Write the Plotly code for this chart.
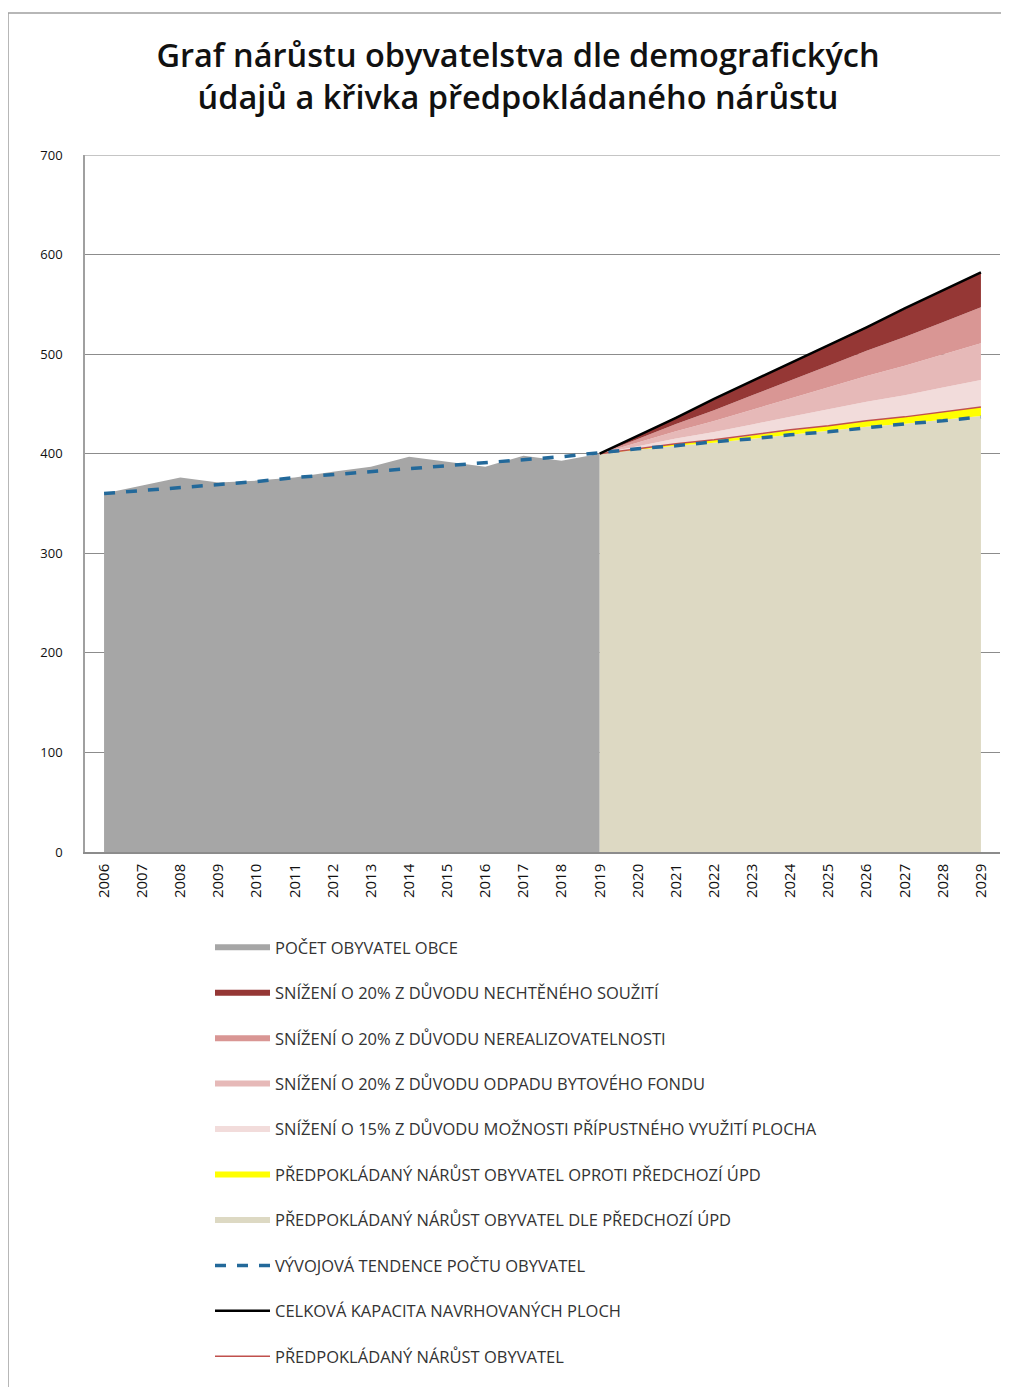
import plotly.graph_objects as go

# ---------------- data ----------------
years_hist = [2006, 2007, 2008, 2009, 2010, 2011, 2012, 2013, 2014, 2015, 2016, 2017, 2018, 2019]
pop_hist = [360, 368, 376, 371, 373, 376, 382, 387, 397, 392, 387, 398, 393, 400]

years_all = list(range(2006, 2030))
trend = [360, 363, 366, 369, 372, 376, 379, 382, 385, 388, 391, 394, 397, 401,
         405, 408, 412, 415, 419, 422, 426, 430, 433, 437]

years_fut = [2019, 2020, 2021, 2022, 2023, 2024, 2025, 2026, 2027, 2028, 2029]
base_prev_upd = [400, 404, 408, 411, 415, 419, 423, 427, 430, 434, 438]      # dle předchozí ÚPD
extra_vs_upd = [0, 0.9, 1.8, 2.7, 3.6, 4.5, 5.4, 6.3, 7.2, 8.1, 9]           # oproti předchozí ÚPD
red15 = [0, 2.7, 5.4, 8.1, 10.8, 13.5, 16.2, 18.9, 21.6, 24.3, 27]           # 15 % přípustné využití
red20_fond = [0, 3.7, 7.4, 11.1, 14.8, 18.5, 22.2, 25.9, 29.6, 33.3, 37]     # 20 % odpad bytového fondu
red20_nereal = [0, 3.6, 7.2, 10.8, 14.4, 18, 21.6, 25.2, 28.8, 32.4, 36]     # 20 % nerealizovatelnost
red20_souziti = [0, 3.5, 7, 10.5, 14, 17.5, 21, 24.5, 28, 31.5, 35]          # 20 % nechtěné soužití
predicted = [400, 405, 410, 414, 419, 424, 428, 433, 437, 442, 447]
total_capacity = [400, 418, 436, 455, 473, 491, 509, 527, 546, 564, 582]

y_ticks = [0, 100, 200, 300, 400, 500, 600, 700]

names = {
    "hist": "POČET OBYVATEL OBCE",
    "souziti": "SNÍŽENÍ O 20% Z DŮVODU NECHTĚNÉHO SOUŽITÍ",
    "nereal": "SNÍŽENÍ O 20% Z DŮVODU NEREALIZOVATELNOSTI",
    "fond": "SNÍŽENÍ O 20% Z DŮVODU ODPADU BYTOVÉHO FONDU",
    "r15": "SNÍŽENÍ O 15% Z DŮVODU MOŽNOSTI PŘÍPUSTNÉHO VYUŽITÍ PLOCHA",
    "extra": "PŘEDPOKLÁDANÝ NÁRŮST OBYVATEL OPROTI PŘEDCHOZÍ ÚPD",
    "base": "PŘEDPOKLÁDANÝ NÁRŮST OBYVATEL DLE PŘEDCHOZÍ ÚPD",
    "trend": "VÝVOJOVÁ TENDENCE POČTU OBYVATEL",
    "total": "CELKOVÁ KAPACITA NAVRHOVANÝCH PLOCH",
    "pred": "PŘEDPOKLÁDANÝ NÁRŮST OBYVATEL",
}

# ---------------- figure ----------------
fig = go.Figure()

def area(x, y, name, color, rank, stack=None):
    kw = dict(x=x, y=y, name=name, mode="none", fillcolor=color,
              legendrank=rank, legendgroup=name, hoverinfo="skip")
    if stack:
        kw["stackgroup"] = stack
    else:
        kw["fill"] = "tozeroy"
    fig.add_trace(go.Scatter(**kw))

area(years_hist, pop_hist, names["hist"], "#A6A6A6", 1)
area(years_fut, base_prev_upd, names["base"], "#DDD9C3", 7, "fut")
area(years_fut, extra_vs_upd, names["extra"], "#FFFF00", 6, "fut")
area(years_fut, red15, names["r15"], "#F2DCDB", 5, "fut")
area(years_fut, red20_fond, names["fond"], "#E6B9B8", 4, "fut")
area(years_fut, red20_nereal, names["nereal"], "#D99694", 3, "fut")
area(years_fut, red20_souziti, names["souziti"], "#953735", 2, "fut")

fig.add_trace(go.Scatter(x=years_fut, y=predicted, name=names["pred"], mode="lines",
                         line=dict(color="#C0504D", width=1.5), legendrank=10,
                         legendgroup=names["pred"], hoverinfo="skip"))
fig.add_trace(go.Scatter(x=years_all, y=trend, name=names["trend"], mode="lines",
                         line=dict(color="#23699A", width=3.5, dash="11px,11px"),
                         legendrank=8, legendgroup=names["trend"], hoverinfo="skip"))
fig.add_trace(go.Scatter(x=years_fut, y=total_capacity, name=names["total"], mode="lines",
                         line=dict(color="#000000", width=2.5), legendrank=9,
                         legendgroup=names["total"], hoverinfo="skip"))

# page body has an 8px margin -> figure is offset by 8px
W, H = 1001, 1379
ml, mr, mt, mb = 77, 9, 147, 535
pw, ph = W - ml - mr, H - mt - mb

fig.update_layout(
    width=W, height=H,
    margin=dict(l=ml, r=mr, t=mt, b=mb),
    paper_bgcolor="white", plot_bgcolor="white",
    font=dict(family="Open Sans", color="#222222"),
    title=dict(
        text="Graf nárůstu obyvatelstva dle demografických<br>údajů a křivka předpokládaného nárůstu",
        x=510 / W, xanchor="center", xref="container",
        y=1 - 59 / H, yanchor="middle", yref="container",
        font=dict(family="Open Sans", size=32.5, color="#111111", weight=600),
    ),
    showlegend=True,
    legend=dict(
        x=(202 - ml) / pw, xanchor="left", y=-(922 - (mt + ph)) / ph, yanchor="top",
        font=dict(family="Open Sans", size=16.5, color="#333333"),
        tracegroupgap=21, itemwidth=55, bgcolor="rgba(0,0,0,0)",
    ),
    shapes=[
        dict(type="rect", xref="paper", yref="paper",
             x0=(0 - ml) / pw, x1=1.3, y0=-2, y1=(mt + ph - 5) / ph,
             line=dict(color="#A0A0A0", width=1.5), fillcolor="rgba(0,0,0,0)",
             layer="below"),
        dict(type="line", xref="paper", yref="y", x0=0, x1=1, y0=700, y1=700,
             line=dict(color="#8C8C8C", width=1.2), layer="below"),
    ],
)

fig.update_xaxes(
    range=[2005.5, 2029.5], tickmode="array", tickvals=years_all,
    ticktext=[str(y) for y in years_all], tickangle=-90,
    tickfont=dict(family="Open Sans", size=15, color="#111111"),
    showgrid=False, showline=True, linecolor="#8C8C8C", linewidth=1.5,
    zeroline=False, ticks="outside", ticklen=4, tickcolor="rgba(0,0,0,0)",
)
fig.update_yaxes(
    range=[0, 700], tickmode="array", tickvals=y_ticks,
    tickfont=dict(family="Open Sans", size=13, color="#111111"),
    showgrid=True, gridcolor="#8C8C8C", gridwidth=1.2,
    showline=True, linecolor="#A0A0A0", linewidth=1.5,
    zeroline=False, ticks="outside", ticklen=18, tickcolor="rgba(0,0,0,0)",
)

fig.write_html("out.html")
